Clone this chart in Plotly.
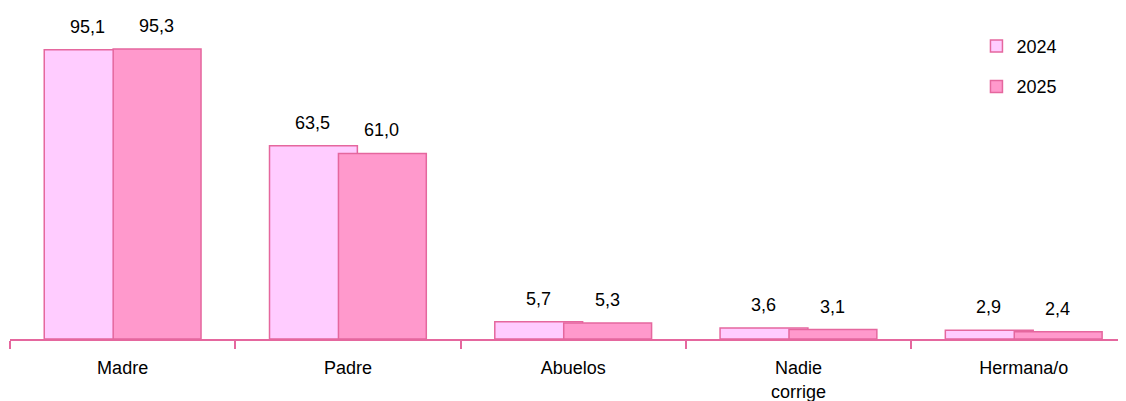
import plotly.graph_objects as go

categories = ['Madre', 'Padre', 'Abuelos', 'Nadie<br>corrige', 'Hermana/o']
y2024 = [95.1, 63.5, 5.7, 3.6, 2.9]
y2025 = [95.3, 61.0, 5.3, 3.1, 2.4]

FONT = 'Liberation Sans, Arial'
EDGE = '#E5679E'

fig = go.Figure()
fig.add_bar(name='2024', x=categories, y=y2024, width=0.39, offset=-0.348,
            marker=dict(color='#FFCCFF', line=dict(color=EDGE, width=1.5)),
            legendgroup='a')
fig.add_bar(name='2025', x=categories, y=y2025, width=0.39, offset=-0.042,
            marker=dict(color='#FF99CC', line=dict(color=EDGE, width=1.5)),
            legendgroup='b')

# value labels above bars
for c, v in zip(categories, y2024):
    fig.add_annotation(x=c, y=v, text=f'{v:.1f}'.replace('.', ','), showarrow=False,
                       xshift=-35, yshift=11, yanchor='bottom')
for c, v in zip(categories, y2025):
    fig.add_annotation(x=c, y=v, text=f'{v:.1f}'.replace('.', ','), showarrow=False,
                       xshift=34, yshift=11, yanchor='bottom')

# page body has an 8px margin, so the figure is sized/placed to compensate
fig.update_layout(
    width=1118, height=393,
    barmode='overlay',
    plot_bgcolor='white', paper_bgcolor='white',
    margin=dict(l=2, r=0, t=0, b=62),
    font=dict(family=FONT, size=18, color='black'),
    showlegend=True,
    legend=dict(x=0.866, y=0.94, xanchor='left', yanchor='top',
                tracegroupgap=14, font=dict(size=18), itemwidth=30),
)
fig.update_xaxes(range=[-0.5, 4.454], showline=True, linecolor=EDGE, linewidth=1.5,
                 ticks='outside', tickson='boundaries', ticklen=8, tickcolor=EDGE,
                 tickwidth=1.5, showgrid=False, fixedrange=True, automargin=False,
                 ticklabelstandoff=12)
fig.update_yaxes(range=[0, 108.8], visible=False, showgrid=False, fixedrange=True,
                 automargin=False)

fig.write_html('out.html')
